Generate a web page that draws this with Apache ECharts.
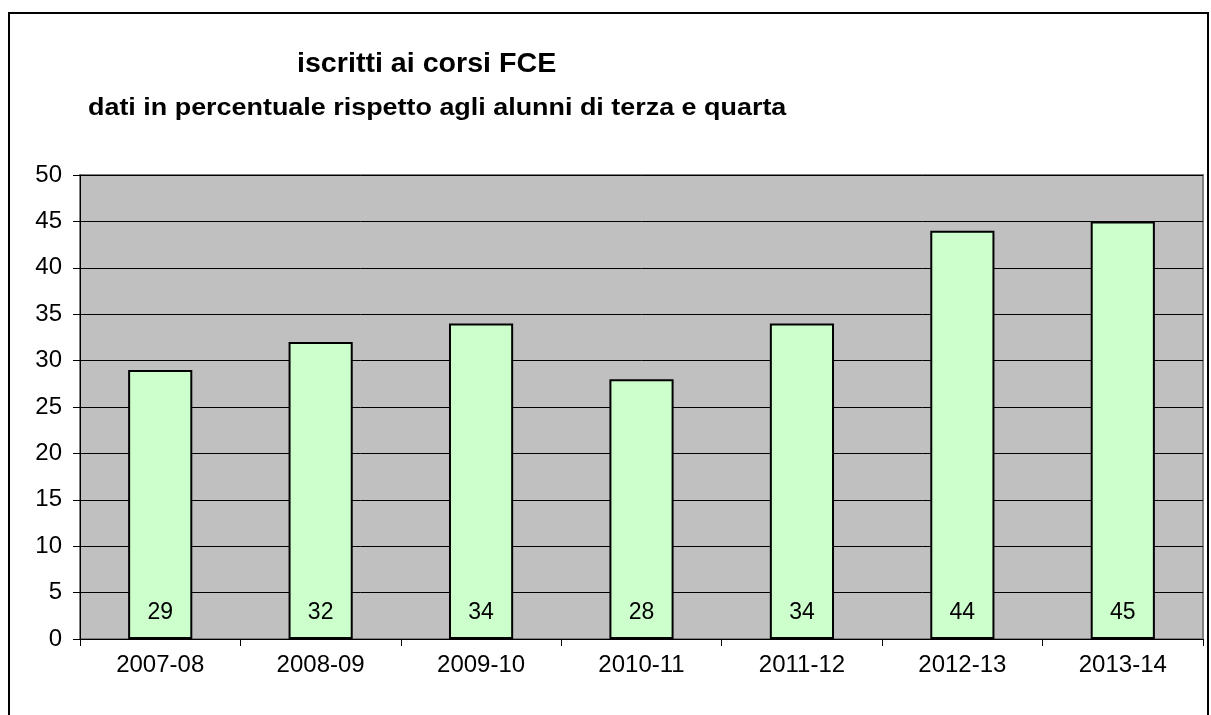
<!DOCTYPE html>
<html>
<head>
    <meta charset="utf-8">
    <title>iscritti ai corsi FCE</title>
    <script type="text/javascript" src="https://cdn.jsdelivr.net/npm/echarts@6/dist/echarts.min.js"></script>
</head>
<body style="margin:0;background:#fff;">
<div id="main" style="width:1211px;height:715px;"></div>
    <script type="text/javascript">
        // anni scolastici e percentuali
        var anni = ['2007-08', '2008-09', '2009-10', '2010-11', '2011-12', '2012-13', '2013-14'];
        var percentuali = [29, 32, 34, 28, 34, 44, 45];
        var yMin = 0, yMax = 50, yStep = 5;

        var chart = echarts.init(document.getElementById('main'));

        var option = {
            backgroundColor: '#fff',
            animation: false,
            textStyle: { fontFamily: 'Liberation Sans, Arial, sans-serif' },
            graphic: [{
                type: 'rect',
                shape: { x: 9, y: 13, width: 1199, height: 720 },
                style: { fill: 'none', stroke: '#000', lineWidth: 2 }
            }, {
                // titolo
                type: 'text',
                x: 297, y: 51,
                scaleX: 1.06,
                style: { text: 'iscritti ai corsi FCE', font: 'bold 27px Liberation Sans, Arial, sans-serif', fill: '#000' }
            }, {
                // sottotitolo
                type: 'text',
                x: 88, y: 97,
                scaleX: 1.17,
                style: { text: 'dati in percentuale rispetto agli alunni di terza e quarta', font: 'bold 23px Liberation Sans, Arial, sans-serif', fill: '#000' }
            }],
            grid: {
                left: 80, right: 8, top: 175, bottom: 76,
                show: true,
                backgroundColor: '#C0C0C0',
                borderColor: '#808080',
                borderWidth: 2
            },
            xAxis: {
                type: 'category',
                data: anni,
                axisLine: { lineStyle: { color: '#000', width: 1 } },
                axisTick: { show: true, alignWithLabel: false, length: 7, lineStyle: { color: '#000' } },
                axisLabel: { color: '#000', fontSize: 24, margin: 14 }
            },
            yAxis: {
                type: 'value',
                min: yMin, max: yMax, interval: yStep,
                axisLine: { show: true, lineStyle: { color: '#000', width: 1 } },
                axisTick: { show: true, length: 7, lineStyle: { color: '#000' } },
                axisLabel: { color: '#000', fontSize: 24, margin: 18 },
                splitLine: { show: true, lineStyle: { color: '#000', width: 1 } }
            },
            series: [{
                type: 'bar',
                data: percentuali,
                barWidth: '40%',
                itemStyle: { color: '#CCFFCC', borderColor: '#000', borderWidth: 2 },
                label: {
                    show: true,
                    position: 'insideBottom',
                    distance: 15,
                    color: '#000',
                    fontSize: 23
                }
            }]
        };

        chart.setOption(option);
    </script>
</body>
</html>
